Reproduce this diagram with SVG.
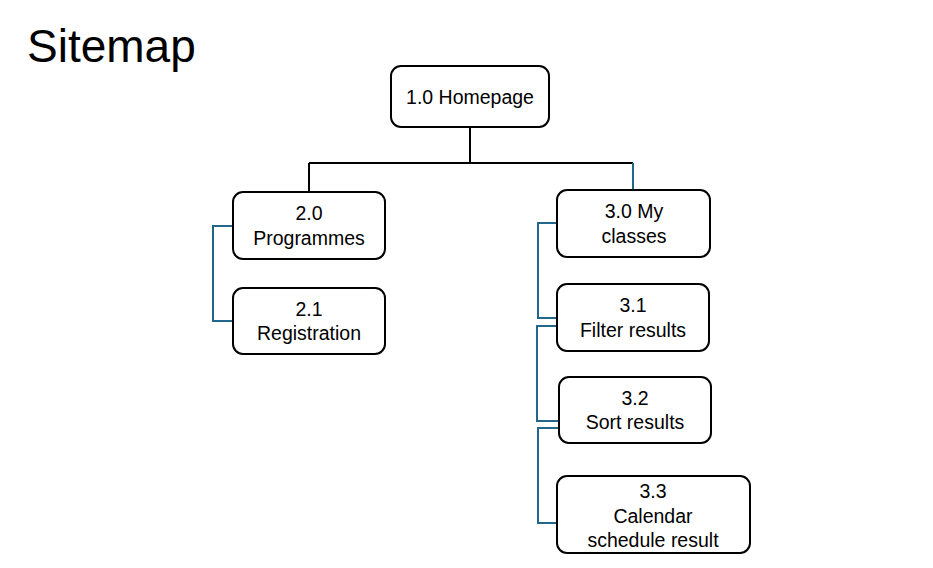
<svg xmlns="http://www.w3.org/2000/svg" width="933" height="568" viewBox="0 0 933 568">
<style>
.box{fill:#fff;stroke:#000;stroke-width:2}
.t{font-family:"Liberation Sans",Arial,sans-serif;font-size:19.5px;fill:#000;text-anchor:middle}
.k{fill:none;stroke:#000;stroke-width:2}
.b{fill:none;stroke:#23668c;stroke-width:2}
</style>
<rect width="933" height="568" fill="#fff"/>
<text x="27" y="62" font-family="'Liberation Sans',Arial,sans-serif" font-size="46" fill="#000">Sitemap</text>
<g id="connectors">
<path class="k" d="M470 127V163M309 163H633M309 163V192"/>
<path class="b" d="M633 163V190"/>
<path class="b" d="M233 226H213V321H233"/>
<path class="b" d="M557 223H538V318H557"/>
<path class="b" d="M557 326H537V421H559"/>
<path class="b" d="M559 428H538V523H557"/>
</g>
<g id="n1"><rect class="box" x="391" y="66" width="158" height="61" rx="10"/><text class="t" x="470" y="104">1.0 Homepage</text></g>
<g id="n20"><rect class="box" x="233" y="192" width="152" height="67" rx="10"/><text class="t" x="309" y="220">2.0</text><text class="t" x="309" y="245">Programmes</text></g>
<g id="n21"><rect class="box" x="233" y="288" width="152" height="66" rx="10"/><text class="t" x="309" y="316">2.1</text><text class="t" x="309" y="340">Registration</text></g>
<g id="n30"><rect class="box" x="557" y="190" width="153" height="67" rx="10"/><text class="t" x="634" y="218">3.0 My</text><text class="t" x="634" y="243">classes</text></g>
<g id="n31"><rect class="box" x="557" y="284" width="152" height="67" rx="10"/><text class="t" x="633" y="312">3.1</text><text class="t" x="633" y="337">Filter results</text></g>
<g id="n32"><rect class="box" x="559" y="377" width="152" height="66" rx="10"/><text class="t" x="635" y="405">3.2</text><text class="t" x="635" y="429">Sort results</text></g>
<g id="n33"><rect class="box" x="557" y="476" width="193" height="77" rx="10"/><text class="t" x="653" y="498">3.3</text><text class="t" x="653" y="523">Calendar</text><text class="t" x="653" y="547">schedule result</text></g>
</svg>
